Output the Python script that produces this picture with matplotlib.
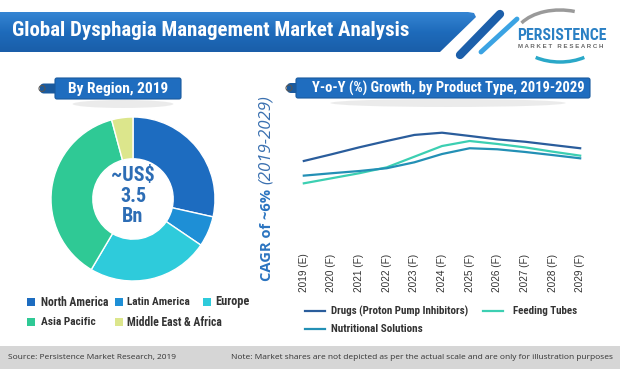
import matplotlib
matplotlib.use('Agg')
import matplotlib.pyplot as plt
from matplotlib import font_manager
from matplotlib.patches import Polygon, Rectangle, FancyBboxPatch, Arc, Circle, Ellipse
from matplotlib.colors import LinearSegmentedColormap
import numpy as np

# ---------------- data ----------------
regions = ["North America", "Latin America", "Europe", "Asia Pacific", "Middle East & Africa"]
region_share = [28.5, 6.0, 24.0, 37.3, 4.2]
region_colors = ['#1D6CC0', '#1E8FD6', '#2ECBDB', '#2FC995', '#DCE68C']
market_lines = ["~US$", "3.5", "Bn"]

years = ["2019 (E)", "2020 (F)", "2021 (F)", "2022 (F)", "2023 (F)", "2024 (F)",
         "2025 (F)", "2026 (F)", "2027 (F)", "2028 (F)", "2029 (F)"]
drugs = [5.88, 6.33, 6.80, 7.23, 7.64, 7.79, 7.57, 7.34, 7.18, 6.96, 6.74]
feeding_tubes = [4.37, 4.71, 5.05, 5.45, 6.17, 6.89, 7.23, 7.03, 6.80, 6.51, 6.24]
nutritional = [4.89, 5.05, 5.20, 5.39, 5.79, 6.35, 6.74, 6.67, 6.49, 6.28, 6.06]
series_names = ["Drugs (Proton Pump Inhibitors)", "Feeding Tubes", "Nutritional Solutions"]
series_colors = ['#2A5D9C', '#3CCFB2', '#2390B5']

title = "Global Dysphagia Management Market Analysis"
pie_title = "By Region, 2019"
line_title = "Y-o-Y (%) Growth, by Product Type, 2019-2029"
ylabel_bold = "CAGR of ~6%"
ylabel_ital = "(2019-2029)"
source = "Source: Persistence Market Research, 2019"
note = "Note: Market shares are not depicted as per the actual scale and are only for illustration purposes"

# ---------------- fonts ----------------
entries = font_manager.fontManager.ttflist
names = {f.name for f in entries}
NARROW, STRETCH = 'Roboto', 'normal'
if 'Roboto Condensed' in names:
    NARROW, STRETCH = 'Roboto Condensed', 'normal'
elif 'Liberation Sans Narrow' in names:
    NARROW, STRETCH = 'Liberation Sans Narrow', 'normal'
NKW = dict(family=NARROW, fontstretch=STRETCH, fontweight='bold')
ARIAL = 'Liberation Sans'
CAL = 'Open Sans'

W, H = 620, 369
fig = plt.figure(figsize=(W / 100, H / 100), dpi=100)
fig.patch.set_facecolor('white')
renderer = fig.canvas.get_renderer()


def px(x0, y0, x1, y1):
    return [x0 / W, 1 - y1 / H, (x1 - x0) / W, (y1 - y0) / H]


ax_bg = fig.add_axes([0, 0, 1, 1], zorder=0)
ax_bg.set_axis_off()
ax_bg.set_xlim(0, W)
ax_bg.set_ylim(H, 0)


def fit_text(s, x0, x1, y, ha='left', **kw):
    t = ax_bg.text(x0, y, s, fontsize=10, va='center', ha='left', **kw)
    w = t.get_window_extent(renderer=renderer).width
    size = 10 * (x1 - x0) / w
    t.set_fontsize(size)
    if ha == 'center':
        t.set_position(((x0 + x1) / 2, y))
        t.set_ha('center')
    return t, size


def fit_vtext(s, y_bottom, y_top, x, **kw):
    t = ax_bg.text(x, y_bottom, s, fontsize=10, va='center', ha='left',
                   rotation=90, rotation_mode='anchor', **kw)
    h = t.get_window_extent(renderer=renderer).height
    t.set_fontsize(10 * (y_bottom - y_top) / h)
    return t


# ---------------- header banner ----------------
banner_pts = [(0, 12), (468, 12), (474, 13), (476, 17), (440, 52), (0, 52)]
banner = Polygon(banner_pts, closed=True, facecolor='none', edgecolor='none')
ax_bg.add_patch(banner)
cmap = LinearSegmentedColormap.from_list('b', ['#3585D3', '#1E6BBB', '#1A5EA9'])
grad = np.linspace(0, 1, 100).reshape(-1, 1)
im = ax_bg.imshow(grad, extent=[0, 480, 52, 12], aspect='auto', cmap=cmap,
                  origin='upper', zorder=1)
im.set_clip_path(banner)
ax_bg.plot([500, 460], [14, 55], color='#1C5FAA', lw=6, solid_capstyle='round', zorder=2)
ax_bg.plot([517, 481], [19, 52], color='#3BA3E3', lw=3.5, solid_capstyle='round', zorder=2)
fit_text(title, 12, 410, 31, color='white', zorder=3, **NKW)

# logo
ax_bg.add_patch(Arc((560, 37), 90, 54, theta1=200, theta2=300, color='#9A9A9A', lw=2.5, zorder=2))
ax_bg.add_patch(Arc((560, 37), 84, 50, theta1=40, theta2=140, color='#2AA8C8', lw=2.5, zorder=2))
fit_text("PERSISTENCE", 517, 606, 35, color='#2A80C4', zorder=3, **NKW)
fit_text("M A R K E T   R E S E A R C H", 518, 604, 46.5, color='#6A6A6A', family=ARIAL,
         fontweight='bold', zorder=3)

# ---------------- section pills ----------------
def pill(x0, x1, y0, y1, tab_x0, tab_x1, text, tx0, tx1):
    ax_bg.add_patch(Ellipse(((x0 + x1) / 2 + 5, y1 + 5), (x1 - x0) * 0.8, 8,
                            facecolor='#C8C8C8', edgecolor='none', alpha=0.35, zorder=1))
    ax_bg.add_patch(FancyBboxPatch((tab_x0, (y0 + y1) / 2 - 5), tab_x1 - tab_x0, 10,
                                   boxstyle='round,pad=0,rounding_size=4',
                                   facecolor='#1A5A9E', edgecolor='none', zorder=2))
    ax_bg.add_patch(Circle((tab_x0 + 2, (y0 + y1) / 2), 3, facecolor='none',
                           edgecolor='#555555', lw=0.8, zorder=2))
    ax_bg.add_patch(FancyBboxPatch((x0, y0), x1 - x0, y1 - y0,
                                   boxstyle='round,pad=0,rounding_size=2',
                                   facecolor='#1F6DBF', edgecolor='#1A5A9E', lw=0.8, zorder=2))
    fit_text(text, tx0, tx1, (y0 + y1) / 2, color='white', zorder=3, **NKW)


pill(55, 181, 78, 99, 40, 68, pie_title, 68, 168)
pill(296, 590, 78, 98, 287, 308, line_title, 312, 584)

# ---------------- donut ----------------
ax_p = fig.add_axes(px(51, 117, 215, 281), zorder=1)
ax_p.pie(region_share, colors=region_colors, startangle=90, counterclock=False,
         radius=1, wedgeprops=dict(width=0.51, edgecolor='white', linewidth=1))
ax_p.set_xlim(-1, 1)
ax_p.set_ylim(-1, 1)

cs = 14.5
for s, yy in zip(market_lines, [176, 197, 217]):
    ax_p.annotate(s, xy=(133 / W, 1 - yy / H), xycoords='figure fraction',
                  fontsize=cs, color='#2D6DB5', ha='center', va='center', zorder=5, **NKW)

# pie legend (row-major)
leg_pos = [(27, 302, 41, 108), (115, 302, 127, 190), (203, 302, 215, 249),
           (27, 322, 41, 96), (115, 322, 127, 222)]
for name, col, (sx, sy, tx0, tx1) in zip(regions, region_colors, leg_pos):
    ax_bg.add_patch(Rectangle((sx, sy - 4), 8, 8, facecolor=col, edgecolor='none', zorder=3))
    fit_text(name, tx0, tx1, sy, color='#333333', zorder=3, **NKW)

# ---------------- line chart ----------------
ax = fig.add_axes(px(290, 100, 594, 248), zorder=1)
ax.patch.set_alpha(0)
x = np.arange(len(years))
for vals, col in zip([drugs, feeding_tubes, nutritional], series_colors):
    ax.plot(x, vals, color=col, lw=1.6, solid_joinstyle='round')
ax.set_xlim(-0.5, len(years) - 0.5)
ax.set_ylim(0, 10)
ax.set_xticks(x)
ax.set_xticklabels(years, rotation=90, fontsize=7.2, family=ARIAL, color='#333333')
ax.tick_params(axis='x', length=0, pad=4)
ax.set_yticks([])
for sp in ax.spines.values():
    sp.set_visible(False)

# y label
fit_vtext(ylabel_bold, 281, 189, 267, color='#2B74C0', family=CAL, fontweight='bold')
fit_vtext(ylabel_ital, 184, 95, 266, color='#3A70B0', family=CAL, style='italic')

# line legend
leg_items = [(series_names[0], series_colors[0], 305, 311, 331, 468),
             (series_names[1], series_colors[1], 483, 311, 513, 578),
             (series_names[2], series_colors[2], 305, 329, 331, 423)]
for name, col, lx, ly, tx0, tx1 in leg_items:
    ax_bg.plot([lx, lx + 20], [ly, ly], color=col, lw=1.6, zorder=3)
    fit_text(name, tx0, tx1, ly, color='#333333', zorder=3, **NKW)

# ---------------- footer ----------------
ax_bg.add_patch(Rectangle((0, 346), W, H - 346, facecolor='#D6D6D6', edgecolor='none', zorder=1))
fit_text(source, 8, 176, 357.5, color='#333333', family=CAL, zorder=3)
fit_text(note, 231, 611, 357.5, color='#333333', family=CAL, zorder=3)

ax_bg.set_xlim(0, W)
ax_bg.set_ylim(H, 0)
fig.savefig('out.png', dpi=100, facecolor='white')
